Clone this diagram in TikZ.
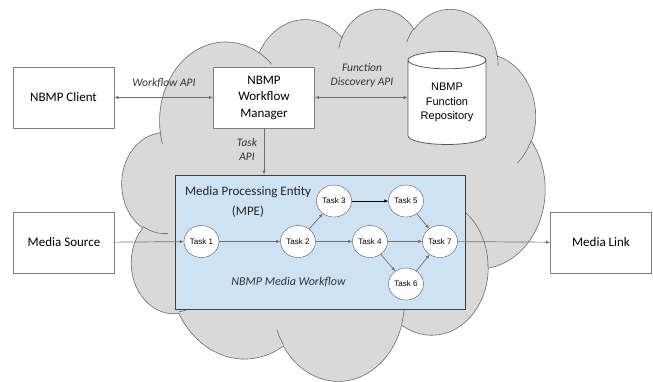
\documentclass[tikz,border=0pt]{standalone}
\usepackage{fontspec}
\setmainfont{Carlito}
\newfontfamily\arialfont{Liberation Sans}
\usetikzlibrary{arrows.meta,shapes.geometric}
\definecolor{cloudfill}{HTML}{D9D9D9}
\definecolor{cloudedge}{HTML}{6A6A6A}
\definecolor{mpefill}{HTML}{CFE2F3}
\definecolor{boxedge}{HTML}{7F7F7F}
\definecolor{arrowgray}{HTML}{707070}

\begin{document}
\begin{tikzpicture}[x=1pt, y=-1pt,
	box/.style={draw=boxedge, fill=white, line width=0.8pt, minimum width=101pt, minimum height=61pt, inner sep=0pt, align=center, font=\fontsize{13}{16.5}\selectfont},
	task/.style={draw=black!65, fill=white, ellipse, minimum width=35pt, minimum height=32pt, inner sep=0pt, font=\arialfont\fontsize{8}{9}\selectfont},
	api/.style={align=center, text=black!80, font=\itshape\fontsize{11.5}{14}\selectfont},
	flow/.style={draw=arrowgray, line width=0.7pt, -{Latex[length=4pt, width=3.5pt]}},
	twoway/.style={draw=arrowgray, line width=0.7pt, {Latex[length=4pt, width=3.5pt]}-{Latex[length=4pt, width=3.5pt]}},
	cloudline/.style={draw=cloudedge, line width=0.6pt}]
	\useasboundingbox (0,0) rectangle (653,381);

	% cloud behind everything
	\begin{scope}[shift={(122,8)}, x=0.97917pt, y=-0.86111pt]
	\filldraw[cloudline, fill=cloudfill] (39,143.7)
		foreach \rx/\ry/\sa/\sw in {67.53/91.90/-190.4875/123.7805, 53.33/72.67/-144.1024/89.9452,
			43.65/59.45/-145.8079/99.7230, 48.57/65.95/-130.9861/117.2417, 53.33/72.73/-78.7089/109.0269,
			67.75/92.20/-46.2673/130.269, 57.85/78.67/0.625/114.033, 67.52/92.15/22.4516/115.1726,
			77.20/105.43/66.2426/75.7110, 43.60/59.18/-274.9421/146.7356, 43.45/59.45/-246.8285/152.5189}
		{ arc[x radius=\rx, y radius=\ry, start angle={atan2(\rx*sin(\sa),\ry*cos(\sa))},
			delta angle={Mod(atan2(\rx*sin(\sa+\sw),\ry*cos(\sa+\sw))-atan2(\rx*sin(\sa),\ry*cos(\sa)),360)}] } -- cycle;
	\foreach \px/\py/\rx/\ry/\sa/\sw in {46.93/261.77/43.45/59.45/86.742/26.4295, 69.28/348.99/43.60/59.18/73.6105/11.4475,
			164.78/390.90/67.52/92.15/137.624/14.081, 288.27/347.51/67.52/92.15/6.4533/15.998,
			341.29/229.54/57.85/78.67/-70.2924/70.917, 417.98/153.54/53.33/72.73/30.318/27.7515,
			383.24/54.26/48.57/65.95/-13.744/14.859, 290.78/39.52/48.57/65.95/-149.181/18.195,
			221.41/47.20/43.65/59.45/-163.494/17.686, 140.00/51.92/67.53/91.90/-66.707/12.319,
			41.27/157.89/67.53/91.90/157.654/11.858}
		\draw[cloudline] (\px,\py) arc[x radius=\rx, y radius=\ry, start angle={atan2(\rx*sin(\sa),\ry*cos(\sa))},
			delta angle={Mod(atan2(\rx*sin(\sa+\sw),\ry*cos(\sa+\sw))-atan2(\rx*sin(\sa),\ry*cos(\sa)),360)}];
	\end{scope}

	\node (client) [box] at (63.5,97.5) {NBMP Client};
	\node (manager) [box] at (264,97.5) {NBMP\\Workflow\\Manager};
	\node (repo) [cylinder, shape border rotate=90, aspect=0.33, draw=black!65, fill=white, line width=0.8pt, minimum width=78pt, minimum height=93pt, inner sep=0pt, align=center, font=\arialfont\fontsize{11}{14.5}\selectfont] at (447,102.5) {NBMP\\Function\\Repository};
	\node (source) [box] at (64,242.5) {Media Source};
	\node (sink) [box] at (601,242.5) {Media Link};

	\node (wfapi) [api] at (164,83) {Workflow API};
	\node (fdapi) [api] at (362,75) {Function\\Discovery API};
	\node (taskapi) [api] at (247,150) {Task\\API};

	\node (mpe) [draw=black!75, fill=mpefill, line width=0.8pt, minimum width=290pt, minimum height=134pt] at (320,242) {};
	\node (mpetext) [align=center, text=black!85, font=\fontsize{13}{20}\selectfont] at (248,202) {Media Processing Entity\\(MPE)};
	\node (wflabel) [api, font=\itshape\fontsize{12}{14}\selectfont] at (288.5,282) {NBMP Media Workflow};

	\node (t1) [task] at (201.5,241.5) {Task 1};
	\node (t2) [task] at (298,241.5) {Task 2};
	\node (t3) [task] at (334,201) {Task 3};
	\node (t4) [task] at (370,241.5) {Task 4};
	\node (t5) [task] at (406,201) {Task 5};
	\node (t6) [task] at (406,284) {Task 6};
	\node (t7) [task] at (440,241.5) {Task 7};

	\draw[twoway] (client) -- (manager);
	\draw[twoway] (manager.east) -- (manager.east -| repo.west);
	\draw[flow] (manager.south) -- (manager.south |- mpe.north);
	\draw[flow] (source) -- (t1);
	\draw[flow] (t1) -- (t2);
	\draw[flow] (t2) -- (t3);
	\draw[flow] (t2) -- (t4);
	\draw[flow, draw=black, line width=0.9pt] (t3) -- (t5);
	\draw[flow] (t4) -- (t7);
	\draw[flow] (t4) -- (t6);
	\draw[flow] (t5) -- (t7);
	\draw[flow] (t6) -- (t7);
	\draw[flow] (t7) -- (sink);
\end{tikzpicture}
\end{document}
